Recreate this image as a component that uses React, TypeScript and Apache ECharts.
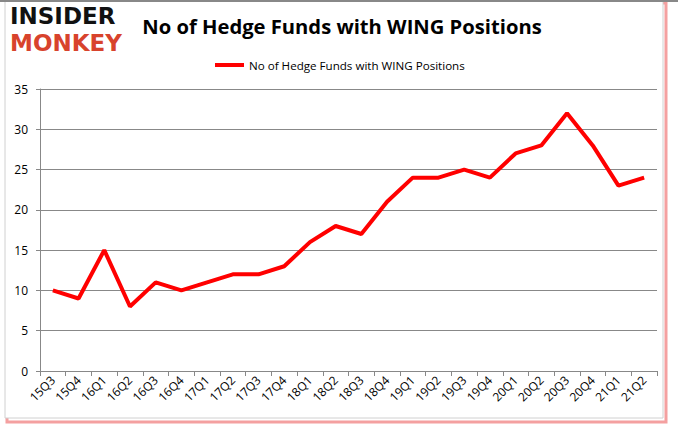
import React, { useEffect, useRef } from "react";
import * as echarts from "echarts";

const categories = ["15Q3","15Q4","16Q1","16Q2","16Q3","16Q4","17Q1","17Q2","17Q3","17Q4","18Q1","18Q2","18Q3","18Q4","19Q1","19Q2","19Q3","19Q4","20Q1","20Q2","20Q3","20Q4","21Q1","21Q2"];
const values = [10,9,15,8,11,10,11,12,12,13,16,18,17,21,24,24,25,24,27,28,32,28,23,24];
const yTicks = { min: 0, max: 35, interval: 5 };
const seriesName = "No of Hedge Funds with WING Positions";
const titleText = "No of Hedge Funds with WING Positions";

export default function App() {
  const ref = useRef<HTMLDivElement>(null);
  useEffect(() => {
    if (!ref.current) return;
    const chart = echarts.init(ref.current, null, { renderer: "svg" });
    const font = "'Open Sans', 'Liberation Sans', sans-serif";
    chart.setOption({
      animation: false,
      backgroundColor: "#ffffff",
      title: {
        text: titleText,
        left: 337,
        top: 11,
        textAlign: "center",
        textStyle: { fontFamily: font, fontSize: 20.2, fontWeight: "bold", color: "#000" },
      },
      legend: {
        data: [seriesName],
        top: 54,
        left: 210,
        itemWidth: 29,
        itemHeight: 4,
        itemGap: 1,
        icon: "rect",
        textStyle: { fontFamily: font, fontSize: 11.6, color: "#000" },
      },
      graphic: [
        { type: "rect", shape: { x: 7, y: 3, width: 659, height: 419 }, style: { fill: "none", stroke: "#f4a0a0", lineWidth: 3 }, z: -1 },
        { type: "rect", shape: { x: 5, y: 1, width: 658, height: 417 }, style: { fill: "#fff", stroke: "#d0d0d0", lineWidth: 1 }, z: -1 },
        { type: "line", shape: { x1: 0, y1: 1, x2: 678, y2: 1 }, style: { stroke: "#888", lineWidth: 2 } },
        { type: "text", left: 10, top: 4, style: { text: "INSIDER", fontFamily: "'DejaVu Sans', sans-serif", fontWeight: "bold", fontSize: 23, lineHeight: 23, fill: "#111" } },
        { type: "text", left: 10, top: 31, style: { text: "MONKEY", fontFamily: "'DejaVu Sans', sans-serif", fontWeight: "bold", fontSize: 23, lineHeight: 23, fill: "#d8432c" } },
      ],
      grid: { left: 40, right: 21, top: 89, bottom: 60, containLabel: false },
      xAxis: {
        type: "category",
        data: categories,
        boundaryGap: true,
        axisLine: { lineStyle: { color: "#888" } },
        axisTick: { show: true, alignWithLabel: false, length: 5, lineStyle: { color: "#888" } },
        axisLabel: { rotate: 45, fontFamily: font, fontSize: 12, color: "#000", margin: 7, interval: 0 },
      },
      yAxis: {
        type: "value",
        min: yTicks.min,
        max: yTicks.max,
        interval: yTicks.interval,
        axisLine: { show: true, lineStyle: { color: "#888" } },
        axisTick: { show: true, length: 4, lineStyle: { color: "#888" } },
        splitLine: { lineStyle: { color: "#888", width: 1 } },
        axisLabel: { fontFamily: font, fontSize: 12, color: "#000", margin: 12 },
      },
      series: [
        {
          name: seriesName,
          type: "line",
          data: values,
          symbol: "none",
          lineStyle: { color: "#ff0000", width: 4 },
          itemStyle: { color: "#ff0000" },
        },
      ],
    });
    return () => chart.dispose();
  }, []);
  return <div ref={ref} style={{ width: 678, height: 431, position: "absolute", left: 0, top: 0 }} />;
}
